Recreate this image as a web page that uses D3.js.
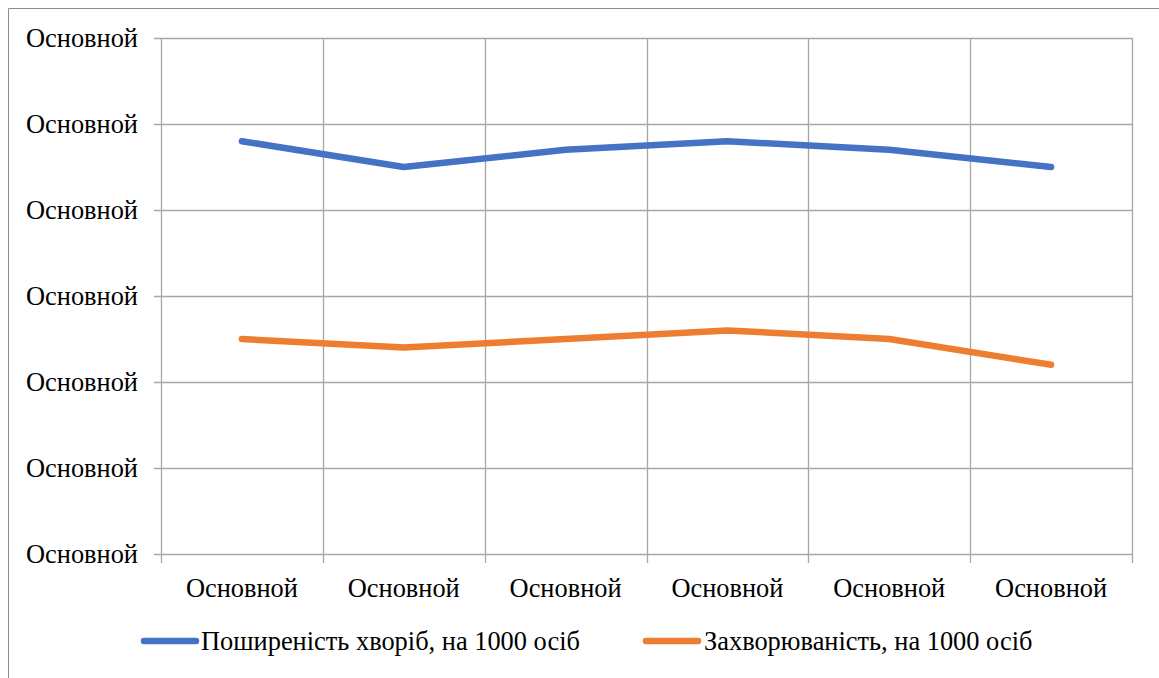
<!DOCTYPE html>
<html><head><meta charset="utf-8">
<script src="https://cdn.jsdelivr.net/npm/d3@7"></script>
<style>html,body{margin:0;padding:0;background:#fff;overflow:hidden}</style>
</head><body>
<svg id="c" width="1159" height="678"></svg>
<script>
const categories = ["Основной","Основной","Основной","Основной","Основной","Основной"];
const seriesNames = ["Поширеність хворіб, на 1000 осіб","Захворюваність, на 1000 осіб"];
const prevalence = [4.8, 4.5, 4.7, 4.8, 4.7, 4.5];
const incidence = [2.5, 2.4, 2.5, 2.6, 2.5, 2.2];
const yTicks = [0,1,2,3,4,5,6];
const yTickLabels = ["Основной","Основной","Основной","Основной","Основной","Основной","Основной"];
const colors = ["#4472C4","#ED7D31"];

const svg = d3.select("#c");
const font = "'Liberation Serif','Times New Roman',serif";
const fs = 26.4;
svg.append("path").attr("d","M8.5,678 V8.5 H1159").attr("fill","none").attr("stroke","#8c8c8c").attr("stroke-width",1);

const L=161, R=1132, T=38, B=554;
const x = d3.scaleBand().domain(d3.range(categories.length)).range([L,R]).paddingInner(0).paddingOuter(0);
const y = d3.scaleLinear().domain([0,6]).range([B,T]);
const grid="#a6a6a6";

const g = svg.append("g");
g.selectAll(".hg").data(yTicks).enter().append("line")
 .attr("x1",L-7).attr("x2",R).attr("y1",d=>Math.round(y(d))+0.5).attr("y2",d=>Math.round(y(d))+0.5)
 .attr("stroke",grid).attr("stroke-width",1.3);
const vx = d3.range(categories.length+1).map(i=> i<categories.length ? x(i) : R);
g.selectAll(".vg").data(vx).enter().append("line")
 .attr("x1",d=>Math.round(d)+0.5).attr("x2",d=>Math.round(d)+0.5).attr("y1",T).attr("y2",B+9)
 .attr("stroke",grid).attr("stroke-width",1.3);

g.selectAll(".yl").data(yTicks).enter().append("text")
 .attr("x",138).attr("y",d=>y(d)).attr("dy","0.35em").attr("text-anchor","end")
 .attr("font-family",font).attr("font-size",fs).attr("fill","#000")
 .text((d,i)=>yTickLabels[i]);
g.selectAll(".xl").data(categories).enter().append("text")
 .attr("x",(d,i)=>x(i)+x.bandwidth()/2).attr("y",597).attr("text-anchor","middle")
 .attr("font-family",font).attr("font-size",fs).attr("fill","#000")
 .text(d=>d);

const line = d3.line().x((d,i)=>x(i)+x.bandwidth()/2).y(d=>y(d));
[prevalence,incidence].forEach((s,k)=>{
  g.append("path").attr("d",line(s)).attr("fill","none").attr("stroke",colors[k])
   .attr("stroke-width",6.5).attr("stroke-linecap","round").attr("stroke-linejoin","round");
});

const leg=[{x1:144,x2:196,tx:201},{x1:646,x2:698,tx:704}];
seriesNames.forEach((n,k)=>{
  svg.append("line").attr("x1",leg[k].x1).attr("x2",leg[k].x2).attr("y1",641).attr("y2",641)
   .attr("stroke",colors[k]).attr("stroke-width",6.5).attr("stroke-linecap","round");
  svg.append("text").attr("x",leg[k].tx).attr("y",650).attr("font-family",font).attr("font-size",fs)
   .attr("fill","#000").text(n);
});
</script>
</body></html>
